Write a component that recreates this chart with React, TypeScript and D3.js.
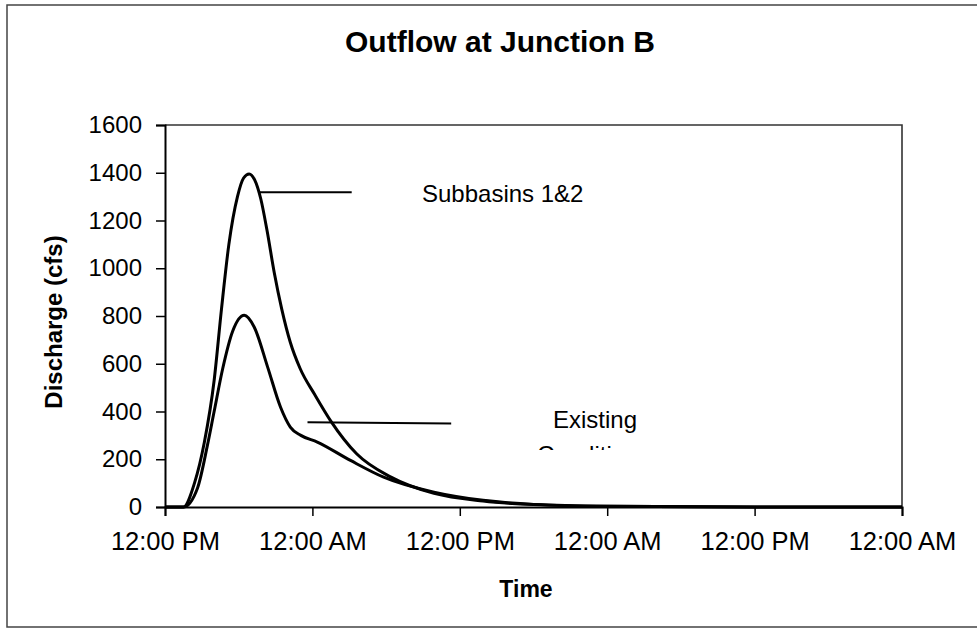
import React, { useEffect, useRef } from "react";
import * as d3 from "d3";

const title = "Outflow at Junction B";
const xTitle = "Time";
const yTitle = "Discharge (cfs)";
const xTickLabels = ["12:00 PM", "12:00 AM", "12:00 PM", "12:00 AM", "12:00 PM", "12:00 AM"];
const xTickHours = [0, 12, 24, 36, 48, 60];
const yTicks = [0, 200, 400, 600, 800, 1000, 1200, 1400, 1600];

// Subbasins 1&2 hydrograph (hours since 12:00 PM, cfs)
const subHours = [0, 1.5, 2.4, 3.2, 4.0, 4.6, 5.2, 5.9, 6.4, 6.85, 7.3, 7.8, 8.3, 8.9, 9.5, 10.2, 11.0, 12.2, 13.5, 15.6, 18.4, 21.9, 25.9, 30, 36, 48, 60];
const subValues = [0, 0, 100, 270, 530, 830, 1100, 1300, 1378, 1395, 1370, 1290, 1160, 980, 830, 690, 580, 470, 360, 223, 125, 57, 25, 10, 3, 0, 0];

// Existing Conditions hydrograph
const exHours = [0, 1.5, 2.65, 3.46, 4.0, 4.7, 5.5, 6.45, 7.26, 8.35, 9.4, 10.2, 11.06, 12.4, 15.1, 17.8, 21.9, 25.9, 30, 36, 48, 60];
const exValues = [0, 0, 80, 260, 400, 580, 735, 803, 754, 587, 419, 335, 300, 272, 195, 125, 62, 28, 11, 3, 0, 0];

const FONT = "'Liberation Sans', Arial, Helvetica, sans-serif";

export default function App() {
  const ref = useRef<SVGSVGElement>(null);

  useEffect(() => {
    const svg = d3.select(ref.current);
    svg.selectAll("*").remove();

    const L = 165, R = 902, T = 125, B = 507;
    const x = d3.scaleLinear().domain([0, 60]).range([L, R]);
    const y = d3.scaleLinear().domain([0, 1600]).range([B, T]);

    // outer frame
    svg.append("path")
      .attr("d", "M978,5 L7,5 L7,627 L978,627")
      .attr("fill", "none").attr("stroke", "#444").attr("stroke-width", 1.5);

    // title
    svg.append("text").attr("x", 500).attr("y", 52)
      .attr("text-anchor", "middle").attr("font-family", FONT)
      .attr("font-weight", "bold").attr("font-size", 30).text(title);

    // plot border top/right
    svg.append("path")
      .attr("d", `M${L},${T} L${R},${T} L${R},${B}`)
      .attr("fill", "none").attr("stroke", "#333").attr("stroke-width", 1.6);

    // y axis
    const yAxis = svg.append("g").attr("transform", `translate(${L},0)`)
      .call(d3.axisLeft(y).tickValues(yTicks).tickSize(9).tickPadding(14).tickFormat(d3.format("d")));
    yAxis.select(".domain").attr("stroke", "#000").attr("stroke-width", 2);
    yAxis.selectAll(".tick line").attr("stroke", "#000").attr("stroke-width", 1.5);
    yAxis.selectAll("text").attr("font-family", FONT).attr("font-size", 24).attr("fill", "#000");

    // x axis
    const xAxis = svg.append("g").attr("transform", `translate(0,${B})`)
      .call(d3.axisBottom(x).tickValues(xTickHours).tickSize(9).tickPadding(16)
        .tickFormat((d, i) => xTickLabels[i]));
    xAxis.select(".domain").attr("stroke", "#000").attr("stroke-width", 2);
    xAxis.selectAll(".tick line").attr("stroke", "#000").attr("stroke-width", 1.5);
    xAxis.selectAll("text").attr("font-family", FONT).attr("font-size", 25.5).attr("fill", "#000");

    // axis titles
    svg.append("text").attr("x", 526).attr("y", 597)
      .attr("text-anchor", "middle").attr("font-family", FONT)
      .attr("font-weight", "bold").attr("font-size", 23).text(xTitle);
    svg.append("text").attr("transform", "translate(62,322) rotate(-90)")
      .attr("text-anchor", "middle").attr("font-family", FONT)
      .attr("font-weight", "bold").attr("font-size", 24).text(yTitle);

    const line = d3.line<[number, number]>()
      .x(d => x(d[0])).y(d => y(d[1])).curve(d3.curveMonotoneX);

    const sub: [number, number][] = subHours.map((h, i) => [h, subValues[i]]);
    const ex: [number, number][] = exHours.map((h, i) => [h, exValues[i]]);

    [sub, ex].forEach(s => {
      svg.append("path").attr("d", line(s) as string)
        .attr("fill", "none").attr("stroke", "#000").attr("stroke-width", 3)
        .attr("stroke-linejoin", "round");
    });

    // annotation leaders
    svg.append("line").attr("x1", x(7.7)).attr("x2", x(15.2))
      .attr("y1", y(1318)).attr("y2", y(1318))
      .attr("stroke", "#000").attr("stroke-width", 2);
    svg.append("line").attr("x1", x(11.6)).attr("x2", x(23.3))
      .attr("y1", y(355)).attr("y2", y(350))
      .attr("stroke", "#000").attr("stroke-width", 2);

    svg.append("text").attr("x", 422).attr("y", 202)
      .attr("font-family", FONT).attr("font-size", 24).text("Subbasins 1&2");

    svg.append("text").attr("x", 553).attr("y", 428)
      .attr("font-family", FONT).attr("font-size", 24).text("Existing");

    const defs = svg.append("defs");
    defs.append("clipPath").attr("id", "clipCond")
      .append("rect").attr("x", 500).attr("y", 400).attr("width", 200).attr("height", 50);
    svg.append("text").attr("x", 537).attr("y", 463)
      .attr("font-family", FONT).attr("font-size", 24)
      .attr("clip-path", "url(#clipCond)").text("Conditions");
  }, []);

  return (
    <svg ref={ref} width={977} height={636}
      style={{ position: "absolute", left: 0, top: 0, background: "#fff" }} />
  );
}
